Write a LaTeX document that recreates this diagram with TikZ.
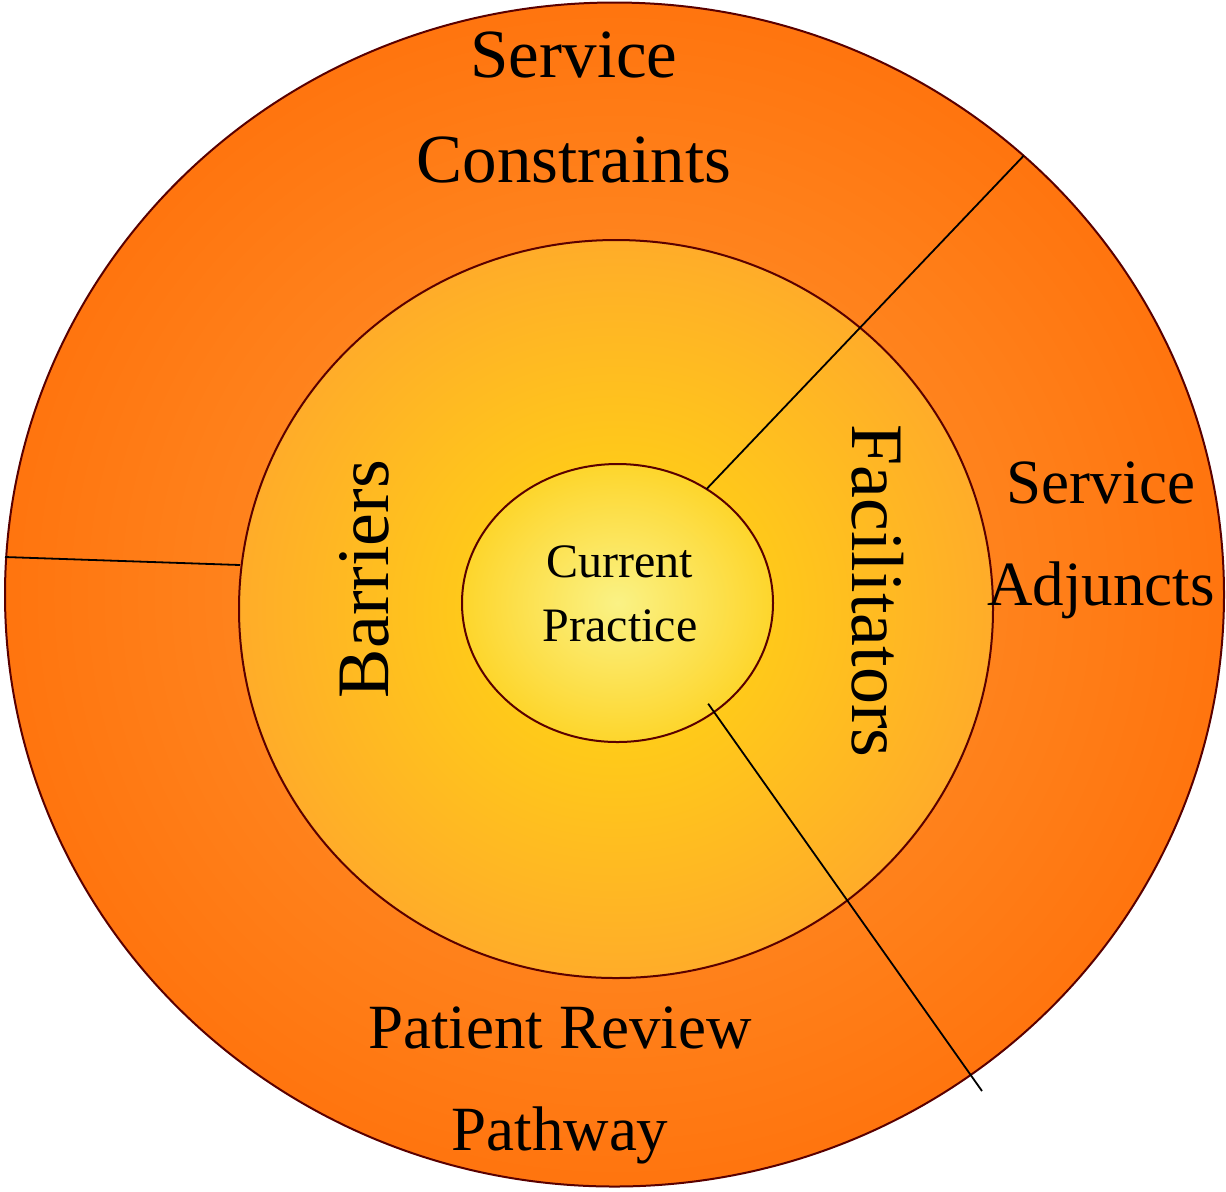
\documentclass[tikz,border=0pt]{standalone}
\usepackage{fontspec}
\setmainfont{Liberation Serif}
\usetikzlibrary{shapes.geometric,calc}

% palette
\definecolor{rimred}{HTML}{5A0000}
\definecolor{ringmid}{HTML}{FF9933}
\definecolor{ringedge}{HTML}{FF6600}
\definecolor{bandmid}{HTML}{FFDC10}
\definecolor{bandedge}{HTML}{FF9933}
\definecolor{coremid}{HTML}{FAF285}
\definecolor{coreedge}{HTML}{FFCA08}

% radial glows; the ellipse rim sits at about 35bp of the shading square
\pgfdeclareradialshading{ringglow}{\pgfpoint{0bp}{0bp}}{color(0bp)=(ringmid); color(35bp)=(ringedge); color(50bp)=(ringedge)}
\pgfdeclareradialshading{bandglow}{\pgfpoint{0bp}{0bp}}{color(0bp)=(bandmid); color(35bp)=(bandedge); color(50bp)=(bandedge)}
\pgfdeclareradialshading{coreglow}{\pgfpoint{0bp}{0bp}}{color(0bp)=(coremid); color(35bp)=(coreedge); color(50bp)=(coreedge)}

\begin{document}
\begin{tikzpicture}[x=0.5pt,y=-0.5pt,
  layer/.style={ellipse, draw=rimred, line width=1pt, inner sep=0pt, outer sep=0pt, shade},
  divider/.style={draw=black, line width=0.9pt},
  biglabel/.style={font=\fontsize{34.5}{52.5}\selectfont, align=center},
  sidelabel/.style={font=\fontsize{31.5}{51}\selectfont, align=center},
  ringlabel/.style={font=\fontsize{37}{40}\selectfont},
  corelabel/.style={font=\fontsize{24}{32}\selectfont, align=center}]
\useasboundingbox (0,0) rectangle (1226,1191);

% the three nested layers
\node[layer, shading=ringglow, minimum width=609.5pt, minimum height=592pt] (outer) at (614.5,594.5) {};
\node[layer, shading=bandglow, minimum width=377pt, minimum height=369pt] (middle) at (616,609) {};
\node[layer, shading=coreglow, minimum width=155.5pt, minimum height=139pt] (inner) at (617.5,603) {};

% dividers between the sectors
\coordinate (tail) at (982,1091);
\draw[divider] ($(outer.west)+(0,-37.5)$) -- ($(middle.west)+(1,-44)$);
\draw[divider] (inner.52) -- (outer.47.2);
\draw[divider] ($(inner.center)!0.93!(inner.-48.1)$) -- (tail);

% labels
\node[biglabel] (constraints) at (574,107) {Service\\Constraints};
\node[sidelabel] (adjuncts) at (1101,540) {Service\\Adjuncts};
\node[sidelabel] (review) at (560,1085) {Patient Review\\Pathway};
\node[ringlabel, rotate=90] (barriers) at (364,579) {Barriers};
\node[ringlabel, rotate=-90] (facilitators) at (878,591) {Facilitators};
\node[corelabel] (practice) at (620,594) {Current\\Practice};
\end{tikzpicture}
\end{document}
